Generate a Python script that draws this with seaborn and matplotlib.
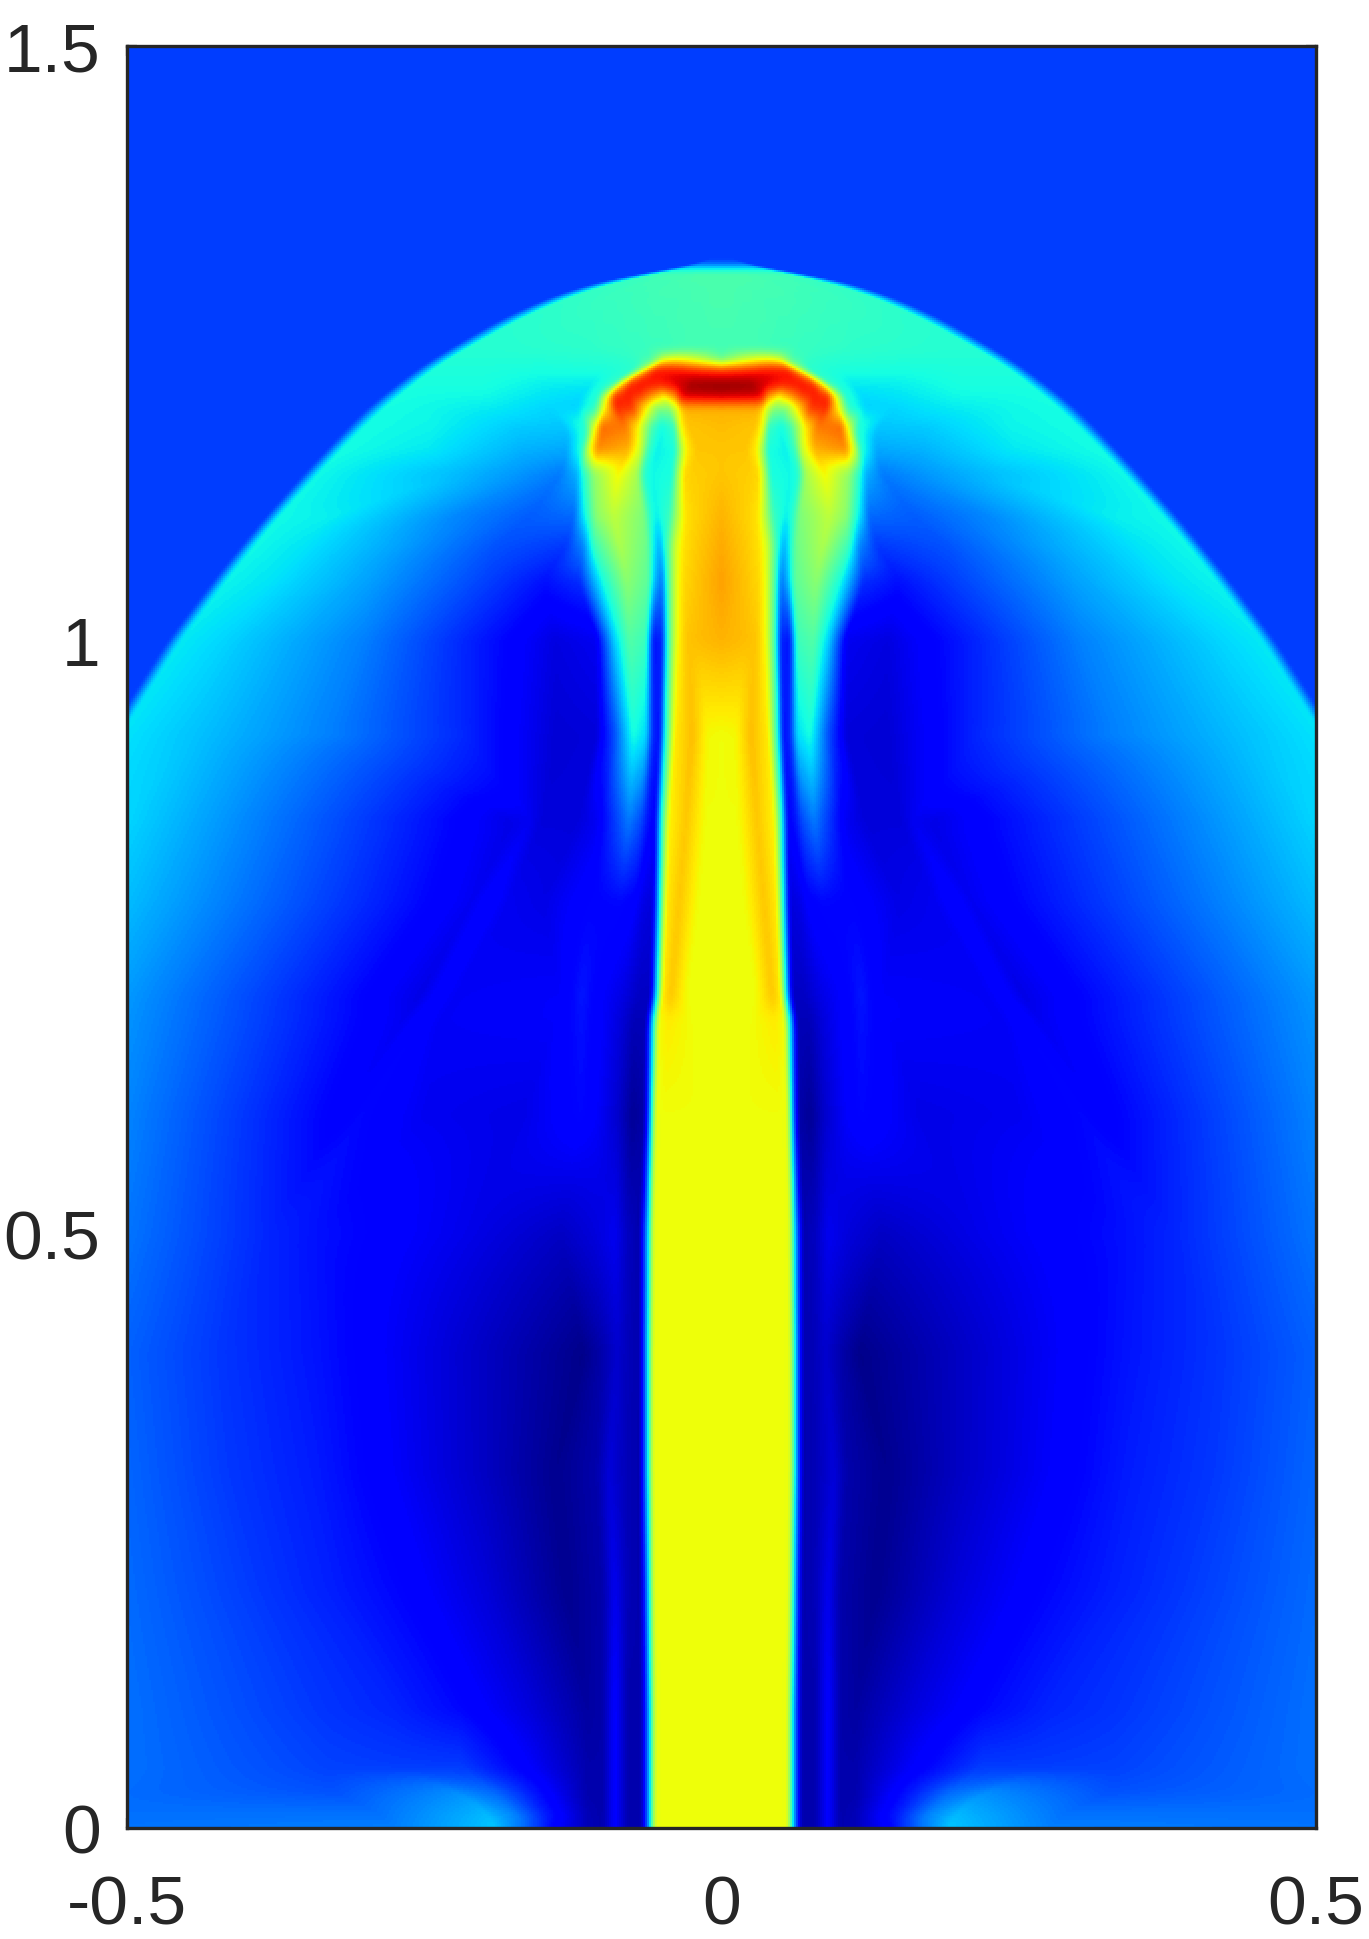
import numpy as np
import matplotlib
matplotlib.use("Agg")
import matplotlib.pyplot as plt
import seaborn as sns

# values: each row is a half profile (x >= 0) at one height,
# stop positions and colour values (0-1 on jet) go together
row_y = [0.0, 0.01, 0.03, 0.05, 0.10, 0.20, 0.30, 0.40, 0.50, 0.60, 0.68, 0.70, 0.78, 0.85, 0.92, 1.0,
         1.05, 1.08, 1.105, 1.14, 1.16, 1.18, 1.195, 1.205, 1.215, 1.228, 1.236, 1.245, 1.27, 1.29,
         1.305, 1.313, 1.3155, 1.5]

stop_x = [
    [0, .02, .05, .056, .0615, .0675, .079, .09, .10, .113, .136, .16, .19, .276, .50, .90, .91, 1],
    [0, .02, .05, .056, .0615, .0675, .079, .09, .10, .113, .15, .175, .195, .28, .50, .90, .91, 1],
    [0, .02, .05, .056, .0615, .0675, .079, .09, .10, .113, .16, .19, .22, .33, .50, .90, .91, 1],
    [0, .02, .05, .056, .0615, .0675, .079, .09, .10, .113, .16, .22, .276, .33, .50, .90, .91, 1],
    [0, .02, .05, .056, .0615, .0675, .079, .09, .10, .113, .16, .22, .276, .33, .50, .90, .91, 1],
    [0, .02, .05, .057, .0625, .068, .079, .09, .10, .13, .20, .276, .33, .39, .50, .90, .91, 1],
    [0, .02, .05, .058, .0635, .069, .08, .095, .105, .14, .20, .276, .34, .416, .50, .90, .91, 1],
    [0, .02, .05, .058, .0635, .069, .078, .088, .10, .116, .20, .30, .345, .416, .50, .90, .91, 1],
    [0, .02, .05, .0575, .063, .069, .08, .09, .108, .136, .22, .34, .36, .38, .50, .90, .91, 1],
    [0, .02, .05, .056, .06, .065, .075, .088, .105, .118, .168, .25, .304, .32, .50, .75, .76, 1],
    [0, .025, .045, .0535, .0585, .064, .075, .085, .10, .118, .14, .24, .252, .268, .50, .75, .76, 1],
    [0, .03, .043, .05, .055, .06, .07, .085, .10, .118, .135, .225, .239, .254, .50, .63, .64, 1],
    [0, .02, .036, .047, .053, .058, .066, .074, .085, .112, .15, .18, .195, .21, .50, .59, .60, 1],
    [0, .014, .03, .045, .052, .056, .062, .068, .078, .105, .12, .15, .16, .175, .50, .55, .56, 1],
    [0, .012, .025, .04, .048, .052, .058, .064, .075, .09, .105, .14, .22, .33, .45, .506, .516, 1],
    [0, .02, .03, .038, .046, .05, .058, .064, .078, .09, .105, .14, .20, .30, .42, .455, .465, 1],
    [0, .022, .032, .038, .046, .05, .056, .062, .08, .10, .12, .15, .20, .30, .38, .417, .427, 1],
    [0, .024, .032, .038, .046, .052, .056, .063, .086, .108, .116, .13, .19, .28, .35, .393, .403, 1],
    [0, .026, .032, .038, .044, .055, .06, .066, .091, .105, .116, .124, .16, .22, .33, .372, .382, 1],
    [0, .026, .032, .037, .042, .06, .066, .072, .088, .108, .116, .122, .135, .164, .22, .34, .351, 1],
    [0, .02, .03, .036, .04, .055, .062, .068, .078, .105, .112, .118, .13, .17, .25, .321, .332, 1],
    [0, .03, .033, .036, .039, .05, .058, .07, .08, .10, .107, .113, .13, .17, .24, .301, .313, 1],
    [0, .03, .035, .038, .045, .053, .06, .075, .09, .10, .108, .125, .15, .19, .25, .285, .298, 1],
    [0, .03, .035, .04, .05, .06, .07, .08, .09, .098, .105, .12, .15, .20, .26, .273, .286, 1],
    [0, .026, .033, .04, .05, .06, .07, .08, .088, .095, .10, .11, .15, .20, .25, .26, .273, 1],
    [0, .02, .04, .05, .055, .058, .062, .066, .07, .076, .085, .10, .15, .20, .235, .243, .256, 1],
    [0, .02, .03, .035, .04, .045, .048, .05, .055, .06, .08, .10, .15, .20, .22, .23, .244, 1],
    [0, .01, .02, .03, .04, .05, .06, .07, .08, .09, .10, .11, .15, .19, .205, .215, .229, 1],
    [0, .01, .02, .03, .04, .05, .06, .07, .08, .09, .10, .11, .12, .14, .16, .17, .186, 1],
    [0, .008, .016, .024, .032, .04, .048, .056, .064, .072, .08, .088, .096, .104, .116, .125, .142, 1],
    [0, .005, .01, .015, .02, .025, .03, .035, .04, .045, .05, .055, .06, .065, .07, .075, .092, 1],
    [0, .002, .004, .006, .008, .01, .012, .014, .016, .018, .02, .022, .024, .025, .026, .03, .05, 1],
    [0, .0002, .0004, .0006, .0008, .001, .0012, .0014, .0016, .0018, .002, .0022, .0024, .0026, .0028, .003, .0036, 1],
    [0, .0002, .0004, .0006, .0008, .001, .0012, .0014, .0016, .0018, .002, .0022, .0024, .0026, .0028, .003, .0036, 1],
]

stop_v = [
    [.64, .64, .64, .63, .28, .04, .04, .12, .04, .05, .11, .22, .32, .25, .24, .24, .24, .24],
    [.64, .64, .64, .63, .28, .04, .04, .12, .04, .05, .16, .26, .31, .24, .235, .235, .235, .235],
    [.64, .64, .64, .63, .28, .04, .04, .12, .04, .04, .15, .23, .265, .205, .23, .23, .23, .23],
    [.64, .64, .64, .63, .28, .04, .04, .12, .04, .04, .11, .185, .185, .19, .235, .235, .235, .235],
    [.64, .64, .64, .63, .28, .04, .04, .12, .04, .03, .08, .13, .16, .175, .235, .235, .235, .235],
    [.64, .64, .64, .63, .28, .04, .05, .10, .04, .015, .08, .13, .155, .18, .23, .23, .23, .23],
    [.64, .64, .64, .63, .28, .04, .05, .08, .04, .015, .06, .11, .15, .18, .225, .225, .225, .225],
    [.64, .64, .64, .63, .28, .04, .05, .07, .04, .01, .06, .12, .145, .175, .22, .22, .22, .22],
    [.64, .64, .64, .63, .28, .04, .06, .10, .08, .06, .095, .14, .15, .16, .24, .24, .24, .24],
    [.64, .64, .64, .63, .30, .04, .02, .07, .11, .13, .09, .10, .13, .115, .255, .33, .33, .33],
    [.64, .64, .66, .64, .33, .05, .05, .08, .11, .14, .11, .105, .125, .10, .27, .33, .33, .33],
    [.64, .64, .70, .66, .34, .06, .06, .09, .11, .145, .11, .105, .12, .09, .275, .36, .185, .185],
    [.64, .64, .70, .66, .33, .08, .09, .12, .13, .125, .09, .10, .125, .10, .31, .35, .185, .185],
    [.64, .64, .70, .65, .33, .12, .14, .20, .25, .10, .08, .08, .10, .09, .335, .35, .185, .185],
    [.64, .645, .71, .66, .37, .14, .16, .34, .38, .20, .08, .075, .165, .25, .32, .35, .185, .185],
    [.72, .71, .70, .64, .40, .16, .14, .42, .45, .33, .10, .085, .145, .25, .335, .355, .185, .185],
    [.74, .70, .68, .63, .42, .24, .30, .46, .52, .38, .17, .14, .19, .285, .35, .365, .185, .185],
    [.73, .69, .67, .62, .44, .30, .34, .48, .56, .42, .26, .18, .205, .29, .35, .37, .185, .185],
    [.72, .68, .66, .55, .42, .36, .40, .50, .58, .52, .36, .23, .215, .255, .36, .37, .185, .185],
    [.70, .69, .68, .55, .38, .37, .40, .55, .65, .52, .40, .30, .245, .27, .31, .37, .185, .185],
    [.70, .70, .65, .50, .38, .36, .42, .60, .72, .76, .62, .40, .29, .30, .355, .375, .185, .185],
    [.71, .70, .66, .62, .42, .37, .43, .65, .78, .80, .62, .40, .32, .325, .365, .375, .185, .185],
    [.72, .72, .68, .60, .50, .50, .62, .85, .87, .62, .40, .33, .335, .355, .37, .375, .185, .185],
    [.93, .92, .90, .75, .65, .75, .85, .89, .87, .62, .40, .34, .35, .37, .375, .378, .185, .185],
    [.99, .98, .93, .91, .89, .89, .90, .86, .65, .42, .39, .355, .36, .38, .38, .38, .185, .185],
    [.84, .86, .89, .89, .89, .88, .78, .64, .50, .40, .39, .385, .38, .385, .385, .385, .185, .185],
    [.47, .58, .63, .65, .64, .60, .50, .43, .42, .41, .40, .395, .39, .39, .39, .39, .185, .185],
    [.43, .43, .43, .43, .425, .42, .42, .415, .415, .41, .41, .405, .40, .395, .395, .395, .185, .185],
    [.435, .435, .43, .43, .43, .425, .425, .42, .42, .415, .415, .41, .41, .405, .40, .40, .185, .185],
    [.44, .44, .435, .435, .43, .43, .43, .43, .425, .425, .42, .42, .42, .415, .41, .41, .185, .185],
    [.44, .44, .44, .44, .44, .44, .435, .435, .43, .43, .43, .43, .425, .42, .42, .42, .185, .185],
    [.44, .44, .44, .44, .44, .44, .44, .44, .44, .44, .44, .44, .44, .44, .44, .43, .185, .185],
    [.185] * 18,
    [.185] * 18,
]

x_ticks = [-0.5, 0, 0.5]
x_labels = ["-0.5", "0", "0.5"]
y_ticks = [0, 0.5, 1, 1.5]
y_labels = ["0", "0.5", "1", "1.5"]


def soften(values, size):
    # small box blur along the first axis, only to round the corners between read rows
    kernel = np.ones(size) / size
    pad = size // 2
    out = np.empty_like(values)
    for k in range(values.shape[1]):
        padded = np.pad(values[:, k], pad, mode="edge")
        out[:, k] = np.convolve(padded, kernel, mode="valid")
    return out


def build_field(nx, ny):
    # slide the stops between the read rows so fronts stay sharp along their curves
    sx = np.array(stop_x, dtype=float)
    sv = np.array(stop_v, dtype=float)
    xs = np.abs((np.arange(nx) + 0.5) / nx - 0.5)
    ys = (np.arange(ny) + 0.5) / ny * 1.5
    tx = np.column_stack([np.interp(ys, row_y, sx[:, k]) for k in range(sx.shape[1])])
    tv = np.column_stack([np.interp(ys, row_y, sv[:, k]) for k in range(sv.shape[1])])
    tx = soften(soften(tx, 9), 9)
    tv = soften(soften(tv, 5), 5)
    field = np.zeros((ny, nx))
    for j in range(ny):
        field[j] = np.interp(xs, tx[j], tv[j])
    return soften(field.T, 3).T


sns.set_theme(style="white")
plt.rcParams["font.family"] = ["Liberation Sans", "DejaVu Sans"]

nx, ny = 595, 891
field = build_field(nx, ny)

fig = plt.figure(figsize=(13.69, 19.40), dpi=100)
ax = fig.add_axes([127 / 1369, 1 - 1829 / 1940, 1189 / 1369, 1782 / 1940])

# row 0 of the heatmap is at the top
sns.heatmap(field[::-1], cmap="jet", vmin=0, vmax=1, cbar=False, ax=ax,
            xticklabels=False, yticklabels=False)

for s in ax.spines.values():
    s.set_visible(True)
    s.set_color("#262626")
    s.set_linewidth(2.4)

ax.set_xticks([(t + 0.5) * nx for t in x_ticks])
ax.set_xticklabels(x_labels, rotation=0)
ax.set_yticks([(1.5 - t) / 1.5 * ny for t in y_ticks])
ax.set_yticklabels(y_labels, rotation=0)
ax.tick_params(axis="x", direction="in", length=7, width=1.6, color="#262626",
               labelsize=50, labelcolor="#262626", pad=33, bottom=True, top=True)
ax.tick_params(axis="y", direction="in", length=7, width=1.6, color="#262626",
               labelsize=50, labelcolor="#262626", pad=19, left=True, right=True)

fig.savefig("out.png", dpi=100)
